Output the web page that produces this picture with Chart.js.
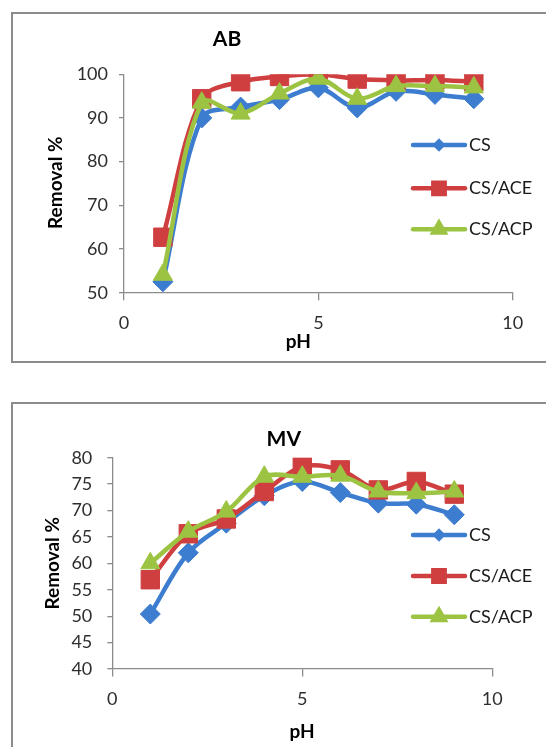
<!DOCTYPE html>
<html>
<head>
<meta charset="utf-8">
<script src="https://cdn.jsdelivr.net/npm/chart.js@4/dist/chart.umd.min.js"></script>
<style>
  html, body { margin: 0; padding: 0; background: #fff; width: 546px; height: 747px; overflow: hidden; }
  .frame { position: absolute; box-sizing: border-box; border: 2px solid #8c8c8c; background: #fff; }
  canvas { position: absolute; }
</style>
</head>
<body>
<div class="frame" style="left:11px; top:12px; width:560px; height:351px;"></div>
<div class="frame" style="left:11px; top:402px; width:560px; height:400px;"></div>
<canvas id="chartAB" width="533" height="349" style="left:13px; top:14px;"></canvas>
<canvas id="chartMV" width="533" height="343" style="left:13px; top:404px;"></canvas>
<script>
// pH values shared by both panels
const pH = [1, 2, 3, 4, 5, 6, 7, 8, 9];
const seriesNames = ['CS', 'CS/ACE', 'CS/ACP'];

// AB dye removal (%)
const abCS  = [52.5, 90.0, 92.5, 94.2, 96.9, 92.3, 96.1, 95.4, 94.4];
const abACE = [62.7, 94.4, 98.3, 99.5, 100.0, 98.9, 98.6, 98.7, 98.3];
const abACP = [54.1, 93.5, 91.0, 95.6, 99.0, 94.4, 97.3, 97.3, 97.0];

// MV dye removal (%)
const mvCS  = [50.4, 62.0, 67.6, 72.8, 75.5, 73.4, 71.4, 71.2, 69.2];
const mvACE = [56.9, 65.6, 68.4, 73.6, 78.3, 77.7, 73.9, 75.5, 73.1];
const mvACP = [60.0, 66.0, 69.8, 76.4, 76.4, 76.6, 73.6, 73.3, 73.6];

// axis tick settings
const xTicksRange = [0, 10, 5];
const abYRange = [50, 100, 10];
const mvYRange = [40, 80, 5];

const FONT = 'Lato, "Open Sans", sans-serif';
const styles = [
  { color: '#3d7dd0', point: 'rectRot',  radius: 10, legendRadius: 3.5 },
  { color: '#cf3f3f', point: 'rect',     radius: 13, legendRadius: 8 },
  { color: '#9cc442', point: 'triangle', radius: 11, legendRadius: 6.5 }
];

function toPoints(ys) { return pH.map((x, i) => ({ x: x, y: ys[i] })); }

function buildDatasets(values) {
  return values.map((ys, i) => ({
    label: seriesNames[i],
    data: toPoints(ys),
    borderColor: styles[i].color,
    backgroundColor: styles[i].color,
    borderWidth: 4.5,
    pointStyle: styles[i].point,
    pointRadius: styles[i].radius,
    pointBorderWidth: 1,
    pointBackgroundColor: styles[i].color,
    pointBorderColor: styles[i].color,
    tension: 0.33,
    order: 3 - i
  }));
}

// draws panel title, axis titles and the legend at fixed spots on the canvas
const annotations = {
  id: 'annotations',
  afterDraw(chart, args, o) {
    const ctx = chart.ctx;
    ctx.save();
    ctx.textBaseline = 'middle';
    ctx.fillStyle = '#000';
    ctx.textAlign = 'center';
    ctx.font = 'bold 21px ' + FONT;
    ctx.fillText(o.title, o.titlePos[0], o.titlePos[1]);
    ctx.font = 'bold 19px ' + FONT;
    ctx.fillText('pH', o.xTitlePos[0], o.xTitlePos[1]);
    ctx.save();
    ctx.translate(o.yTitlePos[0], o.yTitlePos[1]);
    ctx.rotate(-Math.PI / 2);
    ctx.fillText('Removal %', 0, 0);
    ctx.restore();

    // legend
    ctx.font = '18px ' + FONT;
    ctx.textAlign = 'left';
    chart.data.datasets.forEach((ds, i) => {
      const y = o.legendY[i];
      const [x0, x1] = o.legendLine;
      ctx.strokeStyle = ds.borderColor;
      ctx.lineWidth = 4.5;
      ctx.lineCap = 'round';
      ctx.beginPath();
      ctx.moveTo(x0, y);
      ctx.lineTo(x1, y);
      ctx.stroke();
      Chart.helpers.drawPoint(ctx, {
        pointStyle: ds.pointStyle,
        radius: styles[i].legendRadius,
        borderWidth: 1,
        rotation: 0
      }, (x0 + x1) / 2, y);
      ctx.fillStyle = ds.borderColor;
      ctx.fill();
      ctx.fillStyle = '#1a1a1a';
      ctx.fillText(ds.label, o.legendTextX, y);
    });
    ctx.restore();
  }
};

function makeChart(id, values, yRange, geo, notes) {
  new Chart(document.getElementById(id), {
    type: 'line',
    data: { datasets: buildDatasets(values) },
    plugins: [annotations],
    options: {
      responsive: false,
      animation: false,
      layout: { padding: { left: 0, top: geo.top, right: geo.right, bottom: 0 } },
      plugins: {
        legend: { display: false },
        tooltip: { enabled: false },
        annotations: notes
      },
      scales: {
        x: {
          type: 'linear',
          min: xTicksRange[0], max: xTicksRange[1],
          ticks: { stepSize: xTicksRange[2], color: '#2e2e2e', font: { family: FONT, size: 18 }, padding: geo.xPad, maxRotation: 0 },
          grid: { drawOnChartArea: false, drawTicks: true, tickLength: geo.xTick, color: '#8c8c8c', lineWidth: 1.3 },
          border: { color: '#8c8c8c', width: 1.3 },
          afterFit(scale) { scale.height = geo.xHeight; }
        },
        y: {
          min: yRange[0], max: yRange[1],
          ticks: { stepSize: yRange[2], color: '#2e2e2e', font: { family: FONT, size: 18 }, padding: geo.yPad },
          grid: { drawOnChartArea: false, drawTicks: true, tickLength: geo.yTick, color: '#8c8c8c', lineWidth: 1.3 },
          border: { color: '#8c8c8c', width: 1.3 },
          afterFit(scale) { scale.width = geo.yWidth; }
        }
      }
    }
  });
}

makeChart('chartAB', [abCS, abACE, abACP], abYRange,
  { top: 60.3, right: 33.3, xHeight: 70.3, yWidth: 111, xTick: 7.5, yTick: 5, xPad: 12, yPad: 11 },
  { title: 'AB', titlePos: [214, 25.5], xTitlePos: [285.4, 327.7], yTitlePos: [42.7, 168.7],
    legendLine: [400, 452], legendTextX: 456, legendY: [131, 174.3, 215.3] });

makeChart('chartMV', [mvCS, mvACE, mvACP], mvYRange,
  { top: 53.7, right: 53.7, xHeight: 78, yWidth: 99.3, xTick: 7.5, yTick: 5, xPad: 12, yPad: 15 },
  { title: 'MV', titlePos: [270.8, 35.3], xTitlePos: [289, 327.7], yTitlePos: [40, 159.3],
    legendLine: [400, 452], legendTextX: 456, legendY: [131, 172, 212.7] });
</script>
</body>
</html>
